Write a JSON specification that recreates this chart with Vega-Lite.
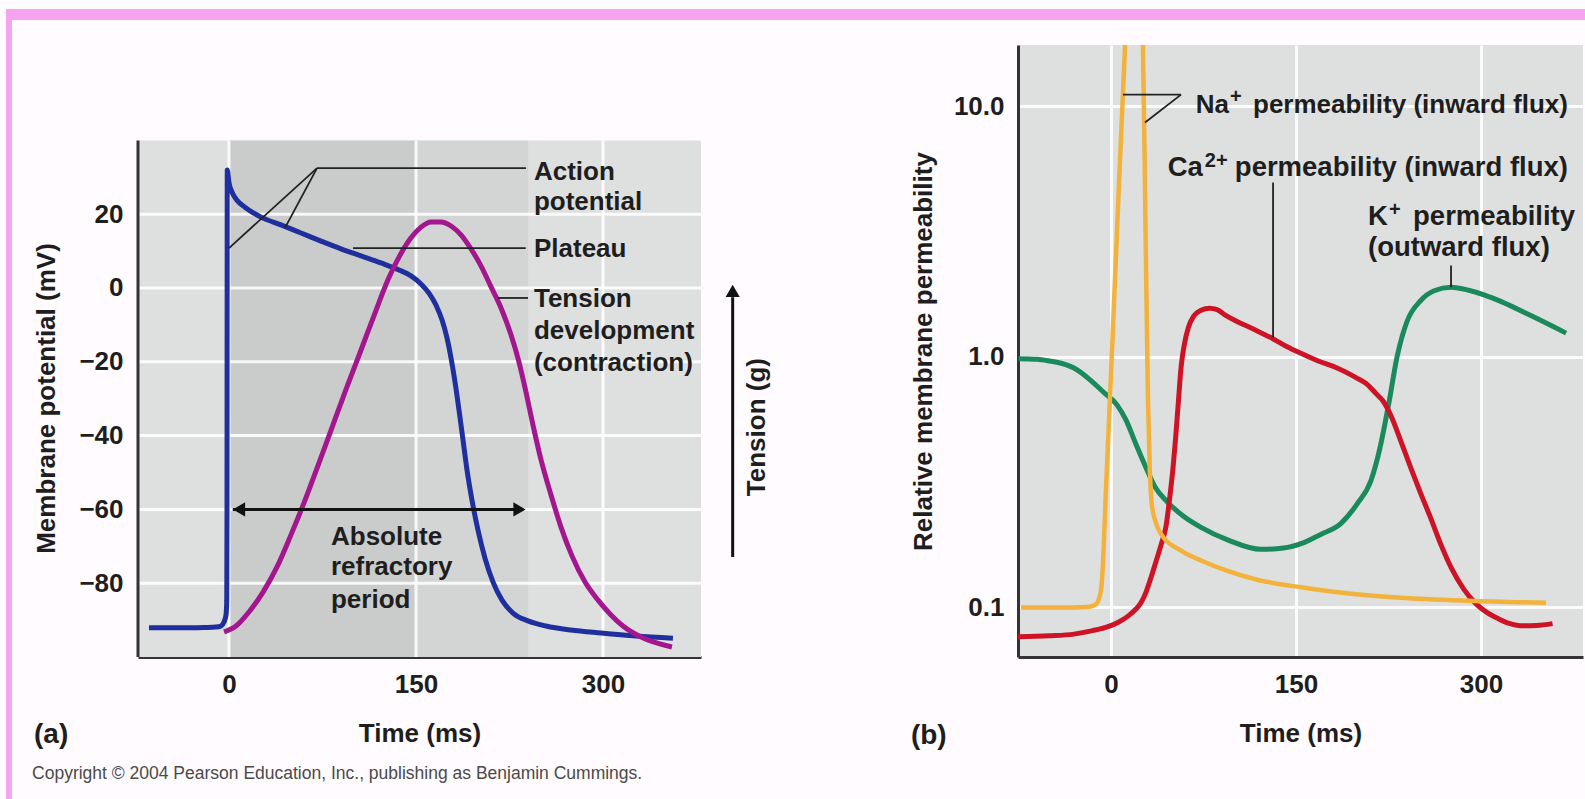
{
  "$schema": "https://vega.github.io/schema/vega-lite/v6.json",
  "autosize": {"type": "pad"},
  "padding": {"left": 5, "top": 9, "right": 0, "bottom": 0},
  "background": "#fffbfe",
  "spacing": 317,
  "bounds": "flush",
  "config": {
    "view": {"stroke": null},
    "font": "Liberation Sans",
    "axis": {
      "labelFont": "Liberation Sans", "labelFontSize": 26, "labelFontWeight": "bold", "labelColor": "#1e1e1e",
      "titleFont": "Liberation Sans", "titleFontSize": 26, "titleFontWeight": "bold", "titleColor": "#1e1e1e",
      "ticks": false, "grid": false, "domainColor": "#333333", "domainWidth": 3
    },
    "text": {"font": "Liberation Sans", "fontSize": 26, "fontWeight": "bold", "color": "#1e1e1e"}
  },
  "datasets": {
    "ap": [
      {"t": -64.2, "v": -92.1}, {"t": -40, "v": -92.1}, {"t": -20, "v": -92}, {"t": -10.4, "v": -91.9}, {"t": -6.4, "v": -91.6},
      {"t": -4.0, "v": -90.5}, {"t": -2.4, "v": -88.6}, {"t": -1.8, "v": -84.6}, {"t": -1.6, "v": -60}, {"t": -1.5, "v": 0},
      {"t": -1.4, "v": 32.0}, {"t": 0, "v": 28.5}, {"t": 2.4, "v": 26.0}, {"t": 6.4, "v": 23.8}, {"t": 13.6, "v": 21.7},
      {"t": 25.7, "v": 19.2}, {"t": 41.7, "v": 17.1}, {"t": 57.8, "v": 14.9}, {"t": 73.8, "v": 12.7}, {"t": 89.8, "v": 10.6},
      {"t": 105.9, "v": 8.7}, {"t": 121.9, "v": 6.8}, {"t": 136.4, "v": 4.9}, {"t": 146.0, "v": 3.3}, {"t": 154.0, "v": 1.1},
      {"t": 160.4, "v": -1.4}, {"t": 166.0, "v": -4.6}, {"t": 170.9, "v": -8.7}, {"t": 174.9, "v": -13.6}, {"t": 178.1, "v": -19.0},
      {"t": 181.3, "v": -25.5}, {"t": 184.5, "v": -33.1}, {"t": 187.7, "v": -41.2}, {"t": 190.9, "v": -49.3}, {"t": 194.9, "v": -57.5},
      {"t": 199.7, "v": -65.6}, {"t": 205.3, "v": -73.2}, {"t": 211.8, "v": -79.7}, {"t": 219.0, "v": -84.6}, {"t": 227.8, "v": -88.1},
      {"t": 239.8, "v": -90.2}, {"t": 254.3, "v": -91.6}, {"t": 274.3, "v": -92.7}, {"t": 298.4, "v": -93.5}, {"t": 326.5, "v": -94.3},
      {"t": 356.1, "v": -94.9}
    ],
    "tension": [
      {"t": -4.0, "v": -93.2}, {"t": 5.6, "v": -91.6}, {"t": 16.0, "v": -87.8}, {"t": 27.3, "v": -82.4}, {"t": 38.5, "v": -75.6},
      {"t": 49.7, "v": -66.9}, {"t": 61.0, "v": -57.5}, {"t": 72.2, "v": -47.4}, {"t": 83.4, "v": -37.1}, {"t": 94.6, "v": -26.8},
      {"t": 105.9, "v": -16.8}, {"t": 117.1, "v": -6.8}, {"t": 127.5, "v": 2.2}, {"t": 137.2, "v": 8.9}, {"t": 146.0, "v": 13.6},
      {"t": 154.0, "v": 16.5}, {"t": 162.0, "v": 17.9}, {"t": 170.0, "v": 17.9}, {"t": 178.1, "v": 16.8}, {"t": 186.1, "v": 14.4},
      {"t": 194.1, "v": 10.6}, {"t": 202.1, "v": 6.0}, {"t": 210.2, "v": 0.3}, {"t": 218.2, "v": -5.4}, {"t": 226.2, "v": -12.7},
      {"t": 232.6, "v": -20.1}, {"t": 238.2, "v": -28.2}, {"t": 243.8, "v": -37.1}, {"t": 250.3, "v": -46.6}, {"t": 258.3, "v": -56.1},
      {"t": 266.3, "v": -64.8}, {"t": 275.1, "v": -72.6}, {"t": 285.6, "v": -79.7}, {"t": 296.0, "v": -84.6}, {"t": 306.4, "v": -88.6},
      {"t": 316.0, "v": -91.6}, {"t": 330.5, "v": -94.6}, {"t": 355.3, "v": -97.3}
    ],
    "shading": [
      {"period": "outside", "start": -73, "end": 378.6},
      {"period": "early", "start": 0, "end": 150},
      {"period": "late", "start": 150, "end": 240}
    ],
    "gridxa": [{"t": 0}, {"t": 150}, {"t": 300}],
    "gridya": [{"v": -80}, {"v": -60}, {"v": -40}, {"v": -20}, {"v": 0}, {"v": 20}],
    "leaders_a": [
      {"t1": 70.6, "v1": 32.5, "t2": 238.2, "v2": 32.5},
      {"t1": 70.6, "v1": 32.5, "t2": 0, "v2": 10.8},
      {"t1": 70.6, "v1": 32.5, "t2": 44.9, "v2": 16.3},
      {"t1": 99.5, "v1": 10.8, "t2": 238, "v2": 10.8},
      {"t1": 215.8, "v1": -2.7, "t2": 239.8, "v2": -2.7}
    ],
    "refractory": [{"from": 3, "to": 236, "level": -60}],
    "tension_axis": [{"t": 404, "from": -72.9, "to": -2.5}],
    "heads_a": [
      {"t": 8, "v": -60, "dir": "left"},
      {"t": 233, "v": -60, "dir": "right"},
      {"t": 404, "v": -0.8, "dir": "up"}
    ],
    "labels_a": [
      {"text": "Action", "t": 244.6, "v": 31.5},
      {"text": "potential", "t": 244.6, "v": 23.3},
      {"text": "Plateau", "t": 244.6, "v": 10.5},
      {"text": "Tension", "t": 244.6, "v": -3.0},
      {"text": "development", "t": 244.6, "v": -11.7},
      {"text": "(contraction)", "t": 244.6, "v": -20.4},
      {"text": "Absolute", "t": 81.8, "v": -67.5},
      {"text": "refractory", "t": 81.8, "v": -75.6},
      {"text": "period", "t": 81.8, "v": -84.6}
    ],
    "panel_a": [{"text": "(a)", "t": -156.4, "v": -121.1}],
    "tension_label": [{"text": "Tension (g)", "t": 423.5, "v": -37.7}],
    "copyright": [{"text": "Copyright © 2004 Pearson Education, Inc., publishing as Benjamin Cummings.", "t": -158, "v": -131.7}],
    "na": [
      {"t": -73, "p": 0.0995}, {"t": -40, "p": 0.0995}, {"t": -20, "p": 0.1}, {"t": -13, "p": 0.102}, {"t": -10, "p": 0.107},
      {"t": -8, "p": 0.118}, {"t": -7.3, "p": 0.128}, {"t": -4, "p": 0.3}, {"t": -0.9, "p": 0.667}, {"t": 4.9, "p": 3.18},
      {"t": 11.4, "p": 17.4}, {"t": 18.5, "p": 60}, {"t": 25.9, "p": 17.4}, {"t": 28, "p": 3.2}, {"t": 30, "p": 0.667},
      {"t": 31.5, "p": 0.35}, {"t": 33, "p": 0.26}, {"t": 36, "p": 0.22}, {"t": 40.5, "p": 0.196}, {"t": 56.8, "p": 0.168},
      {"t": 75, "p": 0.152}, {"t": 93.2, "p": 0.14}, {"t": 120, "p": 0.128}, {"t": 154, "p": 0.12}, {"t": 195, "p": 0.113},
      {"t": 235, "p": 0.109}, {"t": 290, "p": 0.106}, {"t": 352.7, "p": 0.104}
    ],
    "ca": [
      {"t": -75.4, "p": 0.0762}, {"t": -50, "p": 0.0768}, {"t": -30, "p": 0.078}, {"t": -15, "p": 0.0805}, {"t": -2.4, "p": 0.0835},
      {"t": 6, "p": 0.087}, {"t": 13.8, "p": 0.092}, {"t": 20, "p": 0.098}, {"t": 24.3, "p": 0.104}, {"t": 28.5, "p": 0.115},
      {"t": 32.4, "p": 0.131}, {"t": 37, "p": 0.155}, {"t": 41, "p": 0.18}, {"t": 44.6, "p": 0.21}, {"t": 47.5, "p": 0.27},
      {"t": 50.3, "p": 0.36}, {"t": 52.5, "p": 0.48}, {"t": 54.7, "p": 0.667}, {"t": 56.8, "p": 0.904}, {"t": 59.5, "p": 1.12},
      {"t": 62.8, "p": 1.31}, {"t": 67, "p": 1.45}, {"t": 73, "p": 1.53}, {"t": 80, "p": 1.56}, {"t": 86, "p": 1.54},
      {"t": 93, "p": 1.46}, {"t": 101, "p": 1.39}, {"t": 115, "p": 1.29}, {"t": 129.7, "p": 1.19}, {"t": 142, "p": 1.1},
      {"t": 154, "p": 1.03}, {"t": 168, "p": 0.96}, {"t": 182.4, "p": 0.904}, {"t": 198.7, "p": 0.824}, {"t": 207, "p": 0.78},
      {"t": 214.9, "p": 0.711}, {"t": 221, "p": 0.66}, {"t": 227, "p": 0.58}, {"t": 235, "p": 0.46}, {"t": 243, "p": 0.36},
      {"t": 251, "p": 0.285}, {"t": 259, "p": 0.228}, {"t": 267, "p": 0.18}, {"t": 275.7, "p": 0.144}, {"t": 286, "p": 0.118},
      {"t": 296, "p": 0.103}, {"t": 305, "p": 0.095}, {"t": 313.8, "p": 0.09}, {"t": 323, "p": 0.086}, {"t": 332, "p": 0.0843},
      {"t": 345, "p": 0.0845}, {"t": 358, "p": 0.0859}
    ],
    "k": [
      {"t": -75, "p": 0.98}, {"t": -60, "p": 0.975}, {"t": -50, "p": 0.96}, {"t": -40.5, "p": 0.94}, {"t": -30, "p": 0.9},
      {"t": -16, "p": 0.8}, {"t": -6, "p": 0.72}, {"t": 5, "p": 0.64}, {"t": 12, "p": 0.56}, {"t": 20, "p": 0.45},
      {"t": 28.4, "p": 0.36}, {"t": 36, "p": 0.3}, {"t": 44.6, "p": 0.266}, {"t": 58, "p": 0.232}, {"t": 73, "p": 0.208},
      {"t": 95, "p": 0.185}, {"t": 121.6, "p": 0.17}, {"t": 140, "p": 0.172}, {"t": 154, "p": 0.179}, {"t": 170, "p": 0.195},
      {"t": 186.5, "p": 0.216}, {"t": 200, "p": 0.26}, {"t": 210.8, "p": 0.32}, {"t": 218, "p": 0.43}, {"t": 225, "p": 0.64},
      {"t": 232, "p": 1.0}, {"t": 240, "p": 1.38}, {"t": 251, "p": 1.67}, {"t": 262, "p": 1.83}, {"t": 275.7, "p": 1.89},
      {"t": 290, "p": 1.84}, {"t": 303, "p": 1.76}, {"t": 316, "p": 1.66}, {"t": 340, "p": 1.46}, {"t": 369, "p": 1.24}
    ],
    "leaders_b": [
      {"t1": 9.7, "p1": 11.1, "t2": 56.8, "p2": 11.1},
      {"t1": 56.8, "p1": 11.1, "t2": 27.6, "p2": 8.59},
      {"t1": 131.4, "p1": 4.95, "t2": 131.4, "p2": 1.19},
      {"t1": 275.7, "p1": 2.31, "t2": 275.7, "p2": 1.89}
    ],
    "labels_na": [
      {"text": "Na", "t": 95.7, "p": 10.1},
      {"text": "permeability (inward flux)", "t": 370.5, "p": 10.1}
    ],
    "labels_ca": [
      {"text": "Ca", "t": 74.5, "p": 5.68},
      {"text": "permeability (inward flux)", "t": 370.5, "p": 5.68}
    ],
    "labels_k": [
      {"text": "K", "t": 208.4, "p": 3.59},
      {"text": "permeability", "t": 244.9, "p": 3.59},
      {"text": "(outward flux)", "t": 208.4, "p": 2.72}
    ],
    "superscripts_b": [
      {"text": "+", "t": 96.5, "p": 10.9},
      {"text": "2+", "t": 76.1, "p": 6.06},
      {"text": "+", "t": 225.4, "p": 3.83}
    ],
    "panel_b": [{"text": "(b)", "t": -162.2, "p": 0.0305}]
  },
  "hconcat": [
    {
      "width": 563,
      "height": 612,
      "view": {"stroke": null},
      "layer": [
        {
          "data": {"name": "shading"},
          "mark": {"type": "rect"},
          "encoding": {
            "x": {"field": "start", "type": "quantitative", "scale": {"domain": [-73, 378.6], "nice": false, "zero": false},
              "axis": {"values": [0, 150, 300], "title": "Time (ms)", "domain": true, "labelPadding": 14, "titleY": 76, "titleBaseline": "middle", "labelFlush": false}},
            "x2": {"field": "end"},
            "y": {"datum": -100, "type": "quantitative", "scale": {"domain": [-100, 65.85], "nice": false, "zero": false},
              "axis": {"values": [-80, -60, -40, -20, 0, 20], "title": "Membrane potential (mV)", "domain": false, "labelPadding": 15,
                "titleX": -92, "titleY": 353, "titleAngle": 270, "titleAlign": "center", "titleBaseline": "middle"}},
            "y2": {"datum": 40},
            "color": {"field": "period", "type": "nominal", "scale": {"domain": ["outside", "early", "late"], "range": ["#dee0df", "#c9cccb", "#d2d5d4"]}, "legend": null}
          }
        },
        {
          "data": {"values": [{}]},
          "mark": {"type": "rect", "color": "#f7a4f0"},
          "encoding": {
            "x": {"datum": -178.9, "type": "quantitative"},
            "x2": {"datum": 1088.5},
            "y": {"datum": 75.6, "type": "quantitative"},
            "y2": {"datum": 72.6}
          }
        },
        {
          "data": {"values": [{}]},
          "mark": {"type": "rect", "color": "#f7a4f0"},
          "encoding": {
            "x": {"datum": -178.9, "type": "quantitative"},
            "x2": {"datum": -174.1},
            "y": {"datum": 75.6, "type": "quantitative"},
            "y2": {"datum": -138.5}
          }
        },
        {
          "data": {"name": "gridxa"},
          "mark": {"type": "rule", "color": "#ffffff", "strokeWidth": 3, "opacity": 0.85},
          "encoding": {
            "x": {"field": "t", "type": "quantitative"},
            "y": {"datum": -100, "type": "quantitative"},
            "y2": {"datum": 40}
          }
        },
        {
          "data": {"name": "gridya"},
          "mark": {"type": "rule", "color": "#ffffff", "strokeWidth": 3, "opacity": 0.85},
          "encoding": {
            "y": {"field": "v", "type": "quantitative"},
            "x": {"datum": -73, "type": "quantitative"},
            "x2": {"datum": 378.6}
          }
        },
        {
          "data": {"values": [{}]},
          "mark": {"type": "rule", "color": "#333333", "strokeWidth": 3},
          "encoding": {
            "x": {"datum": -73, "type": "quantitative"},
            "y": {"datum": -100, "type": "quantitative"},
            "y2": {"datum": 40}
          }
        },
        {
          "data": {"name": "ap"},
          "mark": {"type": "line", "color": "#1f2f9e", "strokeWidth": 5, "interpolate": "monotone"},
          "encoding": {
            "x": {"field": "t", "type": "quantitative"},
            "y": {"field": "v", "type": "quantitative"}
          }
        },
        {
          "data": {"name": "tension"},
          "mark": {"type": "line", "color": "#a3168d", "strokeWidth": 5, "interpolate": "monotone"},
          "encoding": {
            "x": {"field": "t", "type": "quantitative"},
            "y": {"field": "v", "type": "quantitative"}
          }
        },
        {
          "data": {"name": "leaders_a"},
          "mark": {"type": "rule", "color": "#222222", "strokeWidth": 1.8},
          "encoding": {
            "x": {"field": "t1", "type": "quantitative"},
            "x2": {"field": "t2"},
            "y": {"field": "v1", "type": "quantitative"},
            "y2": {"field": "v2"}
          }
        },
        {
          "data": {"name": "refractory"},
          "mark": {"type": "rule", "color": "#111111", "strokeWidth": 3},
          "encoding": {
            "x": {"field": "from", "type": "quantitative"},
            "x2": {"field": "to"},
            "y": {"field": "level", "type": "quantitative"}
          }
        },
        {
          "data": {"name": "tension_axis"},
          "mark": {"type": "rule", "color": "#111111", "strokeWidth": 3},
          "encoding": {
            "x": {"field": "t", "type": "quantitative"},
            "y": {"field": "from", "type": "quantitative"},
            "y2": {"field": "to"}
          }
        },
        {
          "data": {"name": "heads_a"},
          "mark": {"type": "point", "filled": true, "color": "#111111", "size": 200, "opacity": 1},
          "encoding": {
            "x": {"field": "t", "type": "quantitative"},
            "y": {"field": "v", "type": "quantitative"},
            "shape": {"field": "dir", "type": "nominal", "scale": {"domain": ["left", "right", "up"], "range": ["triangle-left", "triangle-right", "triangle-up"]}, "legend": null}
          }
        },
        {
          "data": {"name": "labels_a"},
          "mark": {"type": "text", "align": "left", "baseline": "middle"},
          "encoding": {
            "x": {"field": "t", "type": "quantitative"},
            "y": {"field": "v", "type": "quantitative"},
            "text": {"field": "text"}
          }
        },
        {
          "data": {"name": "panel_a"},
          "mark": {"type": "text", "align": "left", "baseline": "middle", "fontSize": 28},
          "encoding": {
            "x": {"field": "t", "type": "quantitative"},
            "y": {"field": "v", "type": "quantitative"},
            "text": {"field": "text"}
          }
        },
        {
          "data": {"name": "tension_label"},
          "mark": {"type": "text", "align": "center", "baseline": "middle", "angle": 270},
          "encoding": {
            "x": {"field": "t", "type": "quantitative"},
            "y": {"field": "v", "type": "quantitative"},
            "text": {"field": "text"}
          }
        },
        {
          "data": {"name": "copyright"},
          "mark": {"type": "text", "align": "left", "baseline": "middle", "fontSize": 17.5, "fontWeight": "normal", "color": "#4a4a4a"},
          "encoding": {
            "x": {"field": "t", "type": "quantitative"},
            "y": {"field": "v", "type": "quantitative"},
            "text": {"field": "text"}
          }
        }
      ]
    },
    {
      "width": 565,
      "height": 612,
      "view": {"fill": "#dee0df", "stroke": null},
      "layer": [
        {
          "data": {"name": "k"},
          "mark": {"type": "line", "color": "#1a8a5c", "strokeWidth": 5, "interpolate": "monotone"},
          "encoding": {
            "x": {"field": "t", "type": "quantitative", "scale": {"domain": [-75.4, 382.7], "nice": false, "zero": false},
              "axis": {"values": [0, 150, 300], "title": "Time (ms)", "domain": true, "grid": true, "gridColor": "#ffffff", "gridWidth": 3, "gridOpacity": 0.85,
                "labelPadding": 14, "titleY": 76, "titleBaseline": "middle", "labelFlush": false}},
            "y": {"field": "p", "type": "quantitative", "scale": {"type": "log", "domain": [0.0632, 17.52], "nice": false},
              "axis": {"values": [0.1, 1, 10], "format": ".1f", "title": "Relative membrane permeability", "domain": true, "grid": true, "gridColor": "#ffffff", "gridWidth": 3, "gridOpacity": 0.85,
                "labelPadding": 14, "titleX": -95, "titleY": 306, "titleAngle": 270, "titleAlign": "center", "titleBaseline": "middle"}}
          }
        },
        {
          "data": {"name": "ca"},
          "mark": {"type": "line", "color": "#cc1426", "strokeWidth": 5, "interpolate": "monotone"},
          "encoding": {
            "x": {"field": "t", "type": "quantitative"},
            "y": {"field": "p", "type": "quantitative"}
          }
        },
        {
          "data": {"name": "na"},
          "mark": {"type": "line", "color": "#f2b23c", "strokeWidth": 4.5, "interpolate": "monotone", "clip": true},
          "encoding": {
            "x": {"field": "t", "type": "quantitative"},
            "y": {"field": "p", "type": "quantitative"}
          }
        },
        {
          "data": {"name": "leaders_b"},
          "mark": {"type": "rule", "color": "#222222", "strokeWidth": 1.8},
          "encoding": {
            "x": {"field": "t1", "type": "quantitative"},
            "x2": {"field": "t2"},
            "y": {"field": "p1", "type": "quantitative"},
            "y2": {"field": "p2"}
          }
        },
        {
          "data": {"name": "labels_na"},
          "mark": {"type": "text", "align": "right", "baseline": "middle", "fontSize": 26},
          "encoding": {
            "x": {"field": "t", "type": "quantitative"},
            "y": {"field": "p", "type": "quantitative"},
            "text": {"field": "text"}
          }
        },
        {
          "data": {"name": "labels_ca"},
          "mark": {"type": "text", "align": "right", "baseline": "middle", "fontSize": 27.5},
          "encoding": {
            "x": {"field": "t", "type": "quantitative"},
            "y": {"field": "p", "type": "quantitative"},
            "text": {"field": "text"}
          }
        },
        {
          "data": {"name": "labels_k"},
          "mark": {"type": "text", "align": "left", "baseline": "middle", "fontSize": 27.5},
          "encoding": {
            "x": {"field": "t", "type": "quantitative"},
            "y": {"field": "p", "type": "quantitative"},
            "text": {"field": "text"}
          }
        },
        {
          "data": {"name": "superscripts_b"},
          "mark": {"type": "text", "align": "left", "baseline": "middle", "fontSize": 20},
          "encoding": {
            "x": {"field": "t", "type": "quantitative"},
            "y": {"field": "p", "type": "quantitative"},
            "text": {"field": "text"}
          }
        },
        {
          "data": {"name": "panel_b"},
          "mark": {"type": "text", "align": "left", "baseline": "middle", "fontSize": 28},
          "encoding": {
            "x": {"field": "t", "type": "quantitative"},
            "y": {"field": "p", "type": "quantitative"},
            "text": {"field": "text"}
          }
        }
      ]
    }
  ]
}
